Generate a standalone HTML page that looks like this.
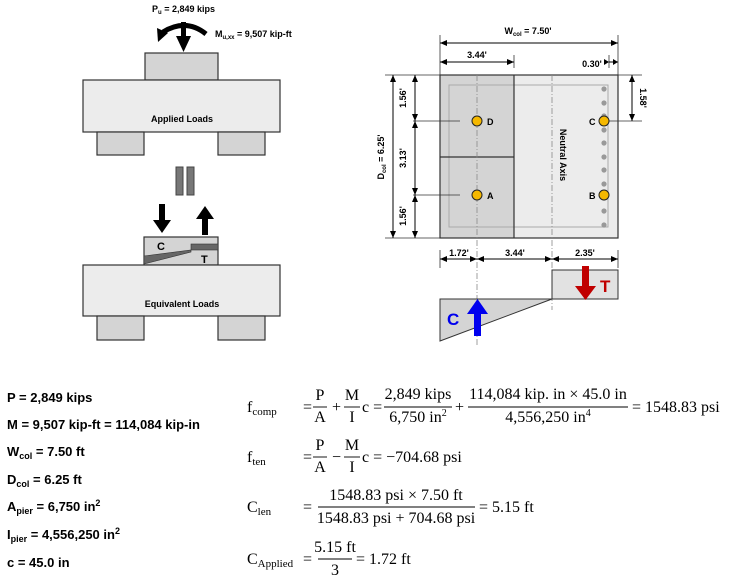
<!DOCTYPE html>
<html><head><meta charset="utf-8"><style>
body{margin:0;background:#fff}
svg{display:block}
.s{font-family:"Liberation Sans",sans-serif;font-weight:bold}
.m{font-family:"Liberation Serif",serif;font-size:16px}
</style></head><body>
<svg width="734" height="578" viewBox="0 0 734 578" xmlns="http://www.w3.org/2000/svg">
<defs>
<marker id="a" markerWidth="8" markerHeight="8" refX="7" refY="4" orient="auto-start-reverse" markerUnits="userSpaceOnUse"><path d="M0,1 L7,4 L0,7Z" fill="#000"/></marker>
</defs>
<g stroke="#333" stroke-width="1.2">
<rect x="145" y="53" width="73" height="27" fill="#d4d4d4"/>
<rect x="83" y="80" width="197" height="52" fill="#ececec"/>
<rect x="97" y="132" width="47" height="23" fill="#d4d4d4"/>
<rect x="218" y="132" width="47" height="23" fill="#d4d4d4"/>
</g>
<text class="s" x="182" y="122" font-size="9" text-anchor="middle">Applied Loads</text>
<text class="s" x="152" y="12" font-size="9">P<tspan font-size="6" dy="2">u</tspan><tspan dy="-2"> = 2,849 kips</tspan></text>
<text class="s" x="215" y="37" font-size="9">M<tspan font-size="6" dy="2">u,xx</tspan><tspan dy="-2"> = 9,507 kip-ft</tspan></text>
<path d="M206,34 Q186,18 163,32" fill="none" stroke="#000" stroke-width="5"/>
<path d="M158,42 L157,28 L168,33Z" fill="#000"/>
<rect x="181" y="22" width="5" height="14" fill="#000"/>
<path d="M176,36 L191,36 L183.5,52Z" fill="#000"/>
<rect x="176" y="167" width="7" height="28" fill="#777" stroke="#444"/>
<rect x="187" y="167" width="7" height="28" fill="#777" stroke="#444"/>
<rect x="159" y="204" width="6" height="16" fill="#000"/>
<path d="M153,220 L171,220 L162,233Z" fill="#000"/>
<rect x="202" y="219" width="6" height="16" fill="#000"/>
<path d="M196,219 L214,219 L205,206Z" fill="#000"/>
<rect x="144" y="237" width="74" height="28" fill="#d4d4d4" stroke="#333" stroke-width="1.2"/>
<path d="M144,256 L191,250 L191,252 L144,264Z" fill="#666" stroke="#333" stroke-width=".6"/>
<rect x="191" y="244" width="27" height="6" fill="#666" stroke="#333" stroke-width=".6"/>
<text class="s" x="157" y="250" font-size="11">C</text>
<text class="s" x="201" y="263" font-size="11">T</text>
<g stroke="#333" stroke-width="1.2">
<rect x="83" y="265" width="197" height="51" fill="#ececec"/>
<rect x="97" y="316" width="47" height="24" fill="#d4d4d4"/>
<rect x="218" y="316" width="47" height="24" fill="#d4d4d4"/>
</g>
<text class="s" x="182" y="307" font-size="9" text-anchor="middle">Equivalent Loads</text>

<rect x="440" y="75" width="74" height="163" fill="#d4d4d4"/>
<rect x="514" y="75" width="104" height="163" fill="#ececec"/>
<rect x="449" y="85" width="159" height="142" fill="none" stroke="#aaa" stroke-width="1"/>
<rect x="440" y="75" width="178" height="163" fill="none" stroke="#333" stroke-width="1.2"/>
<line x1="514" y1="75" x2="514" y2="238" stroke="#333" stroke-width="1.2"/>
<line x1="440" y1="157" x2="514" y2="157" stroke="#333" stroke-width="1.2"/>
<g stroke="#888" stroke-width=".8" stroke-dasharray="6,2,1,2">
<line x1="477" y1="75" x2="477" y2="345"/>
<line x1="552" y1="75" x2="552" y2="310"/>
</g>
<g fill="#999">
<circle cx="604" cy="89" r="2.6"/><circle cx="604" cy="103" r="2.6"/><circle cx="604" cy="116" r="2.6"/><circle cx="604" cy="130" r="2.6"/><circle cx="604" cy="143" r="2.6"/><circle cx="604" cy="157" r="2.6"/><circle cx="604" cy="170" r="2.6"/><circle cx="604" cy="184" r="2.6"/><circle cx="604" cy="198" r="2.6"/><circle cx="604" cy="211" r="2.6"/><circle cx="604" cy="225" r="2.6"/>
</g>
<g stroke="#333" stroke-width=".8">
<line x1="413" y1="121" x2="460" y2="121"/><line x1="413" y1="195" x2="460" y2="195"/>
<line x1="604" y1="121" x2="642" y2="121"/><line x1="618" y1="75" x2="642" y2="75"/>
<line x1="385" y1="75" x2="440" y2="75"/><line x1="385" y1="238" x2="440" y2="238"/>
<line x1="440" y1="35" x2="440" y2="75"/><line x1="618" y1="35" x2="618" y2="75"/>
<line x1="514" y1="55" x2="514" y2="68"/><line x1="609" y1="55" x2="609" y2="68"/>
<line x1="440" y1="250" x2="440" y2="268"/><line x1="618" y1="250" x2="618" y2="268"/>
</g>
<g fill="#f5b800" stroke="#222" stroke-width="1">
<circle cx="477" cy="121" r="5"/><circle cx="477" cy="195" r="5"/><circle cx="604" cy="121" r="5"/><circle cx="604" cy="195" r="5"/>
</g>
<g class="s" font-size="9">
<text x="487" y="125">D</text><text x="487" y="199">A</text>
<text x="589" y="125">C</text><text x="589" y="199">B</text>
<text x="528" y="34" text-anchor="middle">W<tspan font-size="6" dy="2">col</tspan><tspan dy="-2"> = 7.50'</tspan></text>
<text x="477" y="58" text-anchor="middle">3.44'</text>
<text x="592" y="67" text-anchor="middle">0.30'</text>
<text x="459" y="256" text-anchor="middle">1.72'</text>
<text x="515" y="256" text-anchor="middle">3.44'</text>
<text x="585" y="256" text-anchor="middle">2.35'</text>
<text transform="translate(406,98) rotate(-90)" text-anchor="middle">1.56'</text>
<text transform="translate(406,158) rotate(-90)" text-anchor="middle">3.13'</text>
<text transform="translate(406,216) rotate(-90)" text-anchor="middle">1.56'</text>
<text transform="translate(384,157) rotate(-90)" text-anchor="middle">D<tspan font-size="6" dy="2">col</tspan><tspan dy="-2"> = 6.25'</tspan></text>
<text transform="translate(640,98) rotate(90)" text-anchor="middle">1.58'</text>
<text transform="translate(560,155) rotate(90)" text-anchor="middle">Neutral Axis</text>
</g>
<g stroke="#000" stroke-width="1" marker-start="url(#a)" marker-end="url(#a)">
<line x1="440" y1="43" x2="618" y2="43"/>
<line x1="440" y1="62" x2="514" y2="62"/>
<line x1="393" y1="75" x2="393" y2="238"/>
<line x1="415" y1="75" x2="415" y2="121"/>
<line x1="415" y1="121" x2="415" y2="195"/>
<line x1="415" y1="195" x2="415" y2="238"/>
<line x1="632" y1="75" x2="632" y2="121"/>
<line x1="440" y1="259" x2="477" y2="259"/>
<line x1="477" y1="259" x2="552" y2="259"/>
<line x1="552" y1="259" x2="618" y2="259"/>
</g>
<line x1="609" y1="62" x2="618" y2="62" stroke="#000"/>
<path d="M609,62 l-5,-3 v6z M618,62 l-5,-3 v6z" fill="#000"/>
<rect x="552" y="270" width="66" height="29" fill="#e2e2e2" stroke="#333" stroke-width="1"/>
<path d="M440,299 L552,299 L440,341Z" fill="#d4d4d4" stroke="#333" stroke-width="1"/>
<rect x="582" y="266" width="7" height="20" fill="#c00000"/>
<path d="M575,286 L596,286 L585.5,300Z" fill="#c00000"/>
<text class="s" x="600" y="292" font-size="17" fill="#c00000">T</text>
<rect x="474" y="314" width="7" height="22" fill="#0000ee"/>
<path d="M467,314 L488,314 L477.5,299Z" fill="#0000ee"/>
<text class="s" x="447" y="325" font-size="17" fill="#0000ee">C</text>

<g class="s" font-size="13">
<text x="7" y="402">P = 2,849 kips</text>
<text x="7" y="429">M = 9,507 kip-ft = 114,084 kip-in</text>
<text x="7" y="456">W<tspan font-size="9" dy="3">col</tspan><tspan dy="-3"> = 7.50 ft</tspan></text>
<text x="7" y="484">D<tspan font-size="9" dy="3">col</tspan><tspan dy="-3"> = 6.25 ft</tspan></text>
<text x="7" y="511">A<tspan font-size="9" dy="3">pier</tspan><tspan dy="-3"> = 6,750 in</tspan><tspan font-size="9" dy="-5">2</tspan></text>
<text x="7" y="539">I<tspan font-size="9" dy="3">pier</tspan><tspan dy="-3"> = 4,556,250 in</tspan><tspan font-size="9" dy="-5">2</tspan></text>
<text x="7" y="567">c = 45.0 in</text>
</g>

<g class="m">
<text x="247" y="412">f<tspan font-size="11" dy="3">comp</tspan></text>
<text x="303" y="412">=</text>
<text x="320" y="400" text-anchor="middle">P</text><text x="320" y="422" text-anchor="middle">A</text>
<text x="332" y="412">+</text>
<text x="352" y="400" text-anchor="middle">M</text><text x="352" y="422" text-anchor="middle">I</text>
<text x="362" y="412">c =</text>
<text x="418" y="399" text-anchor="middle">2,849 kips</text><text x="418" y="422" text-anchor="middle">6,750 in<tspan font-size="10" dy="-6">2</tspan></text>
<text x="455" y="412">+</text>
<text x="548" y="399" text-anchor="middle">114,084 kip. in × 45.0 in</text><text x="548" y="422" text-anchor="middle">4,556,250 in<tspan font-size="10" dy="-6">4</tspan></text>
<text x="632" y="412">=  1548.83 psi</text>

<text x="247" y="462">f<tspan font-size="11" dy="3">ten</tspan></text>
<text x="303" y="462">=</text>
<text x="320" y="450" text-anchor="middle">P</text><text x="320" y="472" text-anchor="middle">A</text>
<text x="332" y="462">−</text>
<text x="352" y="450" text-anchor="middle">M</text><text x="352" y="472" text-anchor="middle">I</text>
<text x="362" y="462">c = −704.68 psi</text>

<text x="247" y="512">C<tspan font-size="11" dy="3">len</tspan></text>
<text x="303" y="512">=</text>
<text x="396" y="500" text-anchor="middle">1548.83 psi × 7.50 ft</text>
<text x="396" y="523" text-anchor="middle">1548.83 psi + 704.68 psi</text>
<text x="479" y="512">= 5.15 ft</text>

<text x="247" y="564">C<tspan font-size="11" dy="3">Applied</tspan></text>
<text x="303" y="564">=</text>
<text x="335" y="552" text-anchor="middle">5.15 ft</text>
<text x="335" y="575" text-anchor="middle">3</text>
<text x="356" y="564">= 1.72 ft</text>
</g>
<g stroke="#000" stroke-width=".9">
<line x1="313" y1="407" x2="327" y2="407"/><line x1="344" y1="407" x2="360" y2="407"/>
<line x1="384" y1="407" x2="452" y2="407"/><line x1="468" y1="407" x2="628" y2="407"/>
<line x1="313" y1="457" x2="327" y2="457"/><line x1="344" y1="457" x2="360" y2="457"/>
<line x1="318" y1="507" x2="475" y2="507"/>
<line x1="318" y1="559" x2="352" y2="559"/>
</g>
</svg>
</body></html>
